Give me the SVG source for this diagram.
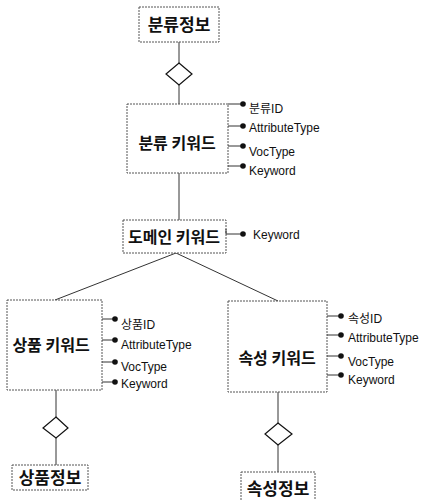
<svg xmlns="http://www.w3.org/2000/svg" width="424" height="500" viewBox="0 0 424 500">
<style>
.box{fill:#fff;stroke:#555;stroke-width:1;stroke-dasharray:2,1}
.ln{fill:none;stroke:#333;stroke-width:1}
.dia{fill:#fff;stroke:#111;stroke-width:1.2}
.t{font-family:"Noto Sans CJK KR","Noto Sans",sans-serif;font-weight:bold;fill:#111;text-anchor:middle}
.a{font-family:"Liberation Sans","Noto Sans CJK KR",sans-serif;font-size:12px;fill:#111}
.dot{fill:#111}
</style>
<rect width="424" height="500" fill="#fff"/>
<g id="connectors">
<path class="ln" d="M179,42V63M179,85V104M179,173V220M176,253L55,300M176,253L278,301M56,390V417M56,438V465M278,392V423M278,445V472"/>
</g>
<g id="diamonds">
<polygon class="dia" points="179,63 192,74 179,85 166,74"/>
<polygon class="dia" points="56,417 68,428 56,438 43,428"/>
<polygon class="dia" points="278,423 292,434 278,445 265,434"/>
</g>
<g id="n-bunryu-info">
<rect class="box" x="139" y="7" width="80" height="35"/>
<text class="t" x="179" y="31" font-size="17">분류정보</text>
</g>
<g id="n-bunryu-kw">
<rect class="box" x="127" y="104" width="101" height="69"/>
<text class="t" x="177" y="149" font-size="16">분류 키워드</text>
<path class="ln" d="M228,104H241M228,126H241M228,146H241M228,166H241"/>
<circle class="dot" cx="243" cy="104" r="2.8"/><circle class="dot" cx="243" cy="126" r="2.8"/><circle class="dot" cx="243" cy="146" r="2.8"/><circle class="dot" cx="243" cy="166" r="2.8"/>
<text class="a" x="249" y="113">분류ID</text>
<text class="a" x="249" y="132">AttributeType</text>
<text class="a" x="249" y="156">VocType</text>
<text class="a" x="249" y="175">Keyword</text>
</g>
<g id="n-domain-kw">
<rect class="box" x="123" y="220" width="103" height="33"/>
<text class="t" x="174" y="243" font-size="16">도메인 키워드</text>
<path class="ln" d="M226,229V234H241"/>
<circle class="dot" cx="243" cy="234" r="2.8"/>
<text class="a" x="253" y="239">Keyword</text>
</g>
<g id="n-sangpum-kw">
<rect class="box" x="7" y="300" width="95" height="90"/>
<text class="t" x="51" y="351" font-size="16">상품 키워드</text>
<path class="ln" d="M102,319H113M102,340H113M102,362H113M102,382H113"/>
<circle class="dot" cx="115" cy="319" r="2.8"/><circle class="dot" cx="115" cy="340" r="2.8"/><circle class="dot" cx="115" cy="362" r="2.8"/><circle class="dot" cx="115" cy="382" r="2.8"/>
<text class="a" x="121" y="329">상품ID</text>
<text class="a" x="121" y="349">AttributeType</text>
<text class="a" x="121" y="371">VocType</text>
<text class="a" x="121" y="388">Keyword</text>
</g>
<g id="n-sokseong-kw">
<rect class="box" x="228" y="301" width="99" height="91"/>
<text class="t" x="277" y="364" font-size="16">속성 키워드</text>
<path class="ln" d="M327,316H339M327,335H339M327,356H339M327,375H339"/>
<circle class="dot" cx="341" cy="316" r="2.8"/><circle class="dot" cx="341" cy="335" r="2.8"/><circle class="dot" cx="341" cy="356" r="2.8"/><circle class="dot" cx="341" cy="375" r="2.8"/>
<text class="a" x="348" y="323">속성ID</text>
<text class="a" x="348" y="342">AttributeType</text>
<text class="a" x="348" y="366">VocType</text>
<text class="a" x="348" y="384">Keyword</text>
</g>
<g id="n-sangpum-info">
<rect class="box" x="12" y="465" width="76" height="25"/>
<text class="t" x="50" y="484" font-size="17">상품정보</text>
</g>
<g id="n-sokseong-info">
<rect class="box" x="241" y="472" width="74" height="30"/>
<text class="t" x="278" y="495" font-size="17">속성정보</text>
</g>
</svg>
